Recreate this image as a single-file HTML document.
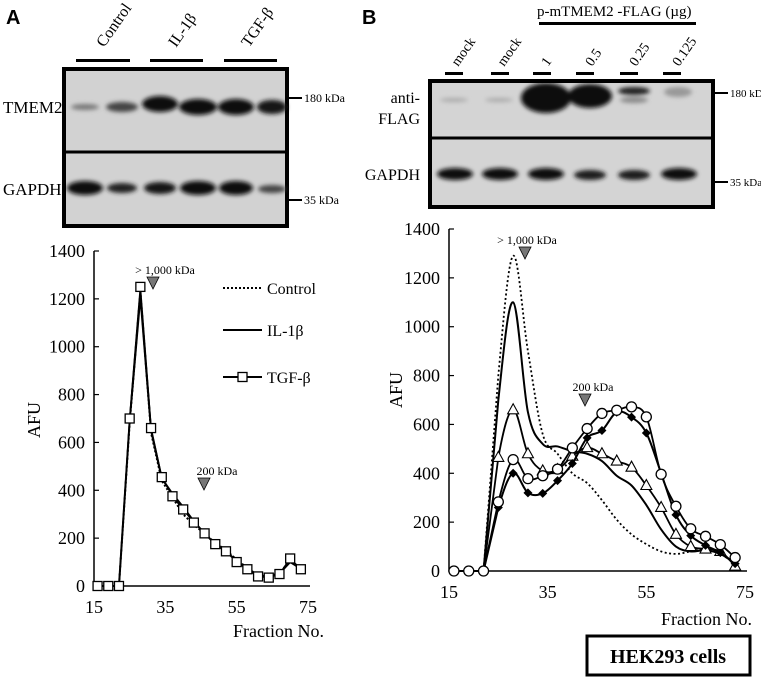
<!DOCTYPE html>
<html><head><meta charset="utf-8">
<style>
html,body{margin:0;padding:0;background:#fff;}
svg{display:block;font-family:"Liberation Serif",serif;}
.bold{font-family:"Liberation Sans",sans-serif;font-weight:bold;}
</style></head>
<body>
<svg id="fig" width="761" height="679" viewBox="0 0 761 679" xmlns="http://www.w3.org/2000/svg">
<defs>
<filter id="blur2"><feGaussianBlur stdDeviation="2.2"/></filter>
</defs>
<text class="bold" x="6" y="24" font-size="20">A</text>
<text class="bold" x="362" y="24" font-size="20">B</text>

<!-- Blot A -->
<g>
<text x="104" y="48" font-size="16" transform="rotate(-55 104 48)">Control</text>
<text x="176" y="48" font-size="16" transform="rotate(-55 176 48)">IL-1β</text>
<text x="249" y="48" font-size="16" transform="rotate(-55 249 48)">TGF-β</text>
<rect x="76" y="59" width="54" height="3" fill="#000"/>
<rect x="150" y="59" width="53" height="3" fill="#000"/>
<rect x="224" y="59" width="53" height="3" fill="#000"/>
<rect x="64" y="69" width="223" height="157" fill="#d2d2d2" stroke="#000" stroke-width="4"/>
<line x1="64" y1="152" x2="287" y2="152" stroke="#000" stroke-width="3"/>
<g filter="url(#blur2)">
<ellipse cx="85" cy="107" rx="14" ry="3" fill="#777"/>
<ellipse cx="122" cy="107" rx="16" ry="5" fill="#444"/>
<ellipse cx="160" cy="104" rx="18" ry="8" fill="#111"/>
<ellipse cx="198" cy="107" rx="19" ry="8" fill="#111"/>
<ellipse cx="236" cy="107" rx="18" ry="8" fill="#111"/>
<ellipse cx="272" cy="107" rx="15" ry="7" fill="#151515"/>
<ellipse cx="85" cy="188" rx="18" ry="7" fill="#111"/>
<ellipse cx="122" cy="188" rx="15" ry="5" fill="#222"/>
<ellipse cx="160" cy="188" rx="16" ry="6" fill="#151515"/>
<ellipse cx="198" cy="188" rx="18" ry="7" fill="#111"/>
<ellipse cx="236" cy="188" rx="17" ry="7" fill="#111"/>
<ellipse cx="272" cy="189" rx="14" ry="4" fill="#444"/>
</g>
<text x="3" y="113" font-size="17">TMEM2</text>
<text x="3" y="195" font-size="17">GAPDH</text>
<line x1="289" y1="98" x2="302" y2="98" stroke="#000" stroke-width="2"/>
<text x="304" y="102" font-size="12">180 kDa</text>
<line x1="289" y1="200" x2="302" y2="200" stroke="#000" stroke-width="2"/>
<text x="304" y="204" font-size="12">35 kDa</text>
</g>

<!-- Blot B -->
<g>
<text x="537" y="16" font-size="15">p-mTMEM2 -FLAG (µg)</text>
<rect x="539" y="22" width="157" height="3" fill="#000"/>
<text x="458" y="67" font-size="14" transform="rotate(-55 458 67)">mock</text>
<text x="504" y="67" font-size="14" transform="rotate(-55 504 67)">mock</text>
<text x="548" y="67" font-size="14" transform="rotate(-55 548 67)">1</text>
<text x="592" y="67" font-size="14" transform="rotate(-55 592 67)">0.5</text>
<text x="636" y="67" font-size="14" transform="rotate(-55 636 67)">0.25</text>
<text x="679" y="67" font-size="14" transform="rotate(-55 679 67)">0.125</text>
<rect x="445" y="72" width="18" height="3" fill="#000"/>
<rect x="491" y="72" width="18" height="3" fill="#000"/>
<rect x="533" y="72" width="18" height="3" fill="#000"/>
<rect x="576" y="72" width="18" height="3" fill="#000"/>
<rect x="620" y="72" width="18" height="3" fill="#000"/>
<rect x="663" y="72" width="18" height="3" fill="#000"/>
<rect x="430" y="81" width="283" height="126" fill="#d4d4d4" stroke="#000" stroke-width="4"/>
<line x1="430" y1="138" x2="713" y2="138" stroke="#000" stroke-width="3"/>
<g filter="url(#blur2)">
<ellipse cx="454" cy="100" rx="14" ry="2" fill="#aaa"/>
<ellipse cx="499" cy="100" rx="14" ry="2" fill="#aaa"/>
<ellipse cx="546" cy="98" rx="25" ry="15" fill="#0a0a0a"/>
<ellipse cx="590" cy="96" rx="22" ry="12" fill="#111"/>
<ellipse cx="634" cy="91" rx="16" ry="4" fill="#222"/>
<ellipse cx="634" cy="100" rx="14" ry="3" fill="#888"/>
<ellipse cx="678" cy="92" rx="14" ry="5" fill="#999"/>
<ellipse cx="455" cy="174" rx="18" ry="6" fill="#111"/>
<ellipse cx="500" cy="174" rx="18" ry="6" fill="#111"/>
<ellipse cx="546" cy="174" rx="18" ry="6" fill="#111"/>
<ellipse cx="590" cy="175" rx="16" ry="5" fill="#1a1a1a"/>
<ellipse cx="634" cy="175" rx="16" ry="5" fill="#1a1a1a"/>
<ellipse cx="679" cy="174" rx="18" ry="6" fill="#111"/>
</g>
<text x="420" y="103" font-size="16" text-anchor="end">anti-</text>
<text x="420" y="124" font-size="16" text-anchor="end">FLAG</text>
<text x="420" y="180" font-size="16" text-anchor="end">GAPDH</text>
<line x1="715" y1="93" x2="728" y2="93" stroke="#000" stroke-width="2"/>
<text x="730" y="97" font-size="11">180 kDa</text>
<line x1="715" y1="182" x2="728" y2="182" stroke="#000" stroke-width="2"/>
<text x="730" y="186" font-size="11">35 kDa</text>
</g>

<g id="chartA"></g>
<g id="chartB"></g>

<rect x="587" y="636" width="163" height="39" fill="#fff" stroke="#000" stroke-width="3"/>
<text x="668" y="663" font-size="20" font-weight="bold" text-anchor="middle">HEK293 cells</text>
</svg>
<script>
const fractions = [16,19,22,25,28,31,34,37,40,43,46,49,52,55,58,61,64,67,70,73];
const yTicks = [0,200,400,600,800,1000,1200,1400];
const xTicks = [15,35,55,75];
// Panel A
const aControl = [0,0,0,680,1230,640,440,370,300,255,220,180,150,110,75,45,40,55,105,75];
const aIL1b    = [0,0,0,690,1210,650,450,385,330,270,220,175,145,105,72,42,38,52,100,72];
const aTGFb    = [0,0,0,700,1250,660,455,375,320,265,220,175,145,100,70,40,35,50,115,70];
// Panel B
const bDotted  = [0,0,0,800,1290,900,560,480,400,360,290,210,150,110,80,70,80,90,70,30];
const bSolid   = [0,0,0,700,1100,650,520,510,490,480,450,390,350,270,170,100,80,85,70,30];
const bTriangle= [0,0,0,465,660,480,410,415,470,505,480,450,425,350,260,150,100,90,80,20];
const bCircle  = [0,0,0,283,456,378,390,417,504,583,645,658,672,631,396,265,173,142,108,55];
const bDiamond = [0,0,0,260,400,320,318,370,440,545,575,650,630,565,400,230,145,105,75,30];

const NS='http://www.w3.org/2000/svg';
function mk(parent,tag,attrs){const e=document.createElementNS(NS,tag);for(const k in attrs)e.setAttribute(k,attrs[k]);parent.appendChild(e);return e;}
function smooth(pts,base){let d='M'+pts[0][0]+','+pts[0][1];for(let i=0;i<pts.length-1;i++){const p0=pts[Math.max(0,i-1)],p1=pts[i],p2=pts[i+1],p3=pts[Math.min(pts.length-1,i+2)];
  if(p1[1]>=base-0.01||p2[1]>=base-0.01){d+=' L'+p2[0]+','+p2[1];continue;}
  const t=0.17;const c1=[p1[0]+(p2[0]-p0[0])*t,Math.min(base,p1[1]+(p2[1]-p0[1])*t)];const c2=[p2[0]-(p3[0]-p1[0])*t,Math.min(base,p2[1]-(p3[1]-p1[1])*t)];d+=' C'+c1[0]+','+c1[1]+' '+c2[0]+','+c2[1]+' '+p2[0]+','+p2[1];}return d;}

function axes(g,cfg){
  const X=v=>cfg.x0+(v-15)*(cfg.x1-cfg.x0)/60, Y=v=>cfg.y0-(v)*(cfg.y0-cfg.y1)/1400;
  const ax=mk(g,'path',{d:`M${cfg.x0},${cfg.y1} V${cfg.y0} H${cfg.x1+2}`,fill:'none',stroke:'#000','stroke-width':1.5});
  
  
  yTicks.forEach(t=>{
    mk(g,'line',{x1:cfg.x0,x2:cfg.x0+5,y1:Y(t),y2:Y(t),stroke:'#000','stroke-width':1.2});
    const tx=mk(g,'text',{x:cfg.x0-9,y:Y(t)+6,'font-size':18,'text-anchor':'end'});tx.textContent=t;
    
    
  });
  xTicks.forEach(t=>{
    const tx=mk(g,'text',{x:X(t),y:cfg.tickY,'font-size':18,'text-anchor':'middle'});tx.textContent=t;
    
    
  });
  const xl=mk(g,'text',{x:cfg.xlX,y:cfg.xlY,'font-size':18,'text-anchor':'end'});xl.textContent='Fraction No.';
  
  
  const yl=mk(g,'text',{x:cfg.ylX,y:cfg.ylY,'font-size':18,'text-anchor':'middle',transform:`rotate(-90 ${cfg.ylX} ${cfg.ylY})`});yl.textContent='AFU';
  
  
  return {X,Y};
}
function arrow(g,x,y,label,lx){
  const a=mk(g,'path',{d:`M${x-6},${y} L${x+6},${y} L${x},${y+12} Z`,fill:'#777',stroke:'#000','stroke-width':0.8});
  
  
  const t=mk(g,'text',{x:lx,y:y-3,'font-size':12,'text-anchor':'middle'});t.textContent=label;
  
  
}
function series(g,X,Y,vals,opts,name){
  const pts=fractions.map((f,i)=>[X(f),Y(vals[i])]);
  const p=mk(g,'path',{d:opts.straight?('M'+pts.map(p=>p.join(',')).join(' L')):smooth(pts,Y(0)),fill:'none',stroke:'#000','stroke-width':opts.w||2,'stroke-dasharray':opts.dash||'none'});
  
  
  if(opts.marker){pts.forEach(([x,y],i)=>{
    if(opts.marker!=='circle' && opts.marker!=='square' && vals[i]===0 && i<3) return;
    let m;
    if(opts.marker==='square') m=mk(g,'rect',{x:x-4.5,y:y-4.5,width:9,height:9,fill:'#fff',stroke:'#000','stroke-width':1.3});
    else if(opts.marker==='circle') m=mk(g,'circle',{cx:x,cy:y,r:5,fill:'#fff',stroke:'#000','stroke-width':1.3});
    else if(opts.marker==='triangle') m=mk(g,'path',{d:`M${x},${y-6} L${x+5.5},${y+4} L${x-5.5},${y+4} Z`,fill:'#fff',stroke:'#000','stroke-width':1.1});
    else m=mk(g,'path',{d:`M${x},${y-4.5} L${x+4.5},${y} L${x},${y+4.5} L${x-4.5},${y} Z`,fill:'#000'});
    
    
  });}
}
// Chart A
const gA=document.getElementById('chartA');
const A=axes(gA,{x0:94,x1:308,y0:586,y1:251,tickY:613,xlX:324,xlY:637,ylX:40,ylY:420});
arrow(gA,153,277,'> 1,000 kDa',165);
arrow(gA,204,478,'200 kDa',217);
series(gA,A.X,A.Y,aControl,{dash:'2,2',w:2,straight:true},'control');
series(gA,A.X,A.Y,aIL1b,{w:2,straight:true},'il1b');
series(gA,A.X,A.Y,aTGFb,{w:1.5,straight:true,marker:'square'},'tgfb');
// legend A
[['Control','2,2',null,294],['IL-1β','none',null,336],['TGF-β','none','square',383]].forEach(([lab,dash,mark,y])=>{
  const l=mk(gA,'line',{x1:223,x2:262,y1:y-6,y2:y-6,stroke:'#000','stroke-width':2,'stroke-dasharray':dash});
  
  
  if(mark){mk(gA,'rect',{x:238,y:y-10.5,width:9,height:9,fill:'#fff',stroke:'#000','stroke-width':1.3});}
  const t=mk(gA,'text',{x:267,y:y,'font-size':16});t.textContent=lab;
  
  
});
// Chart B
const gB=document.getElementById('chartB');
const B=axes(gB,{x0:449,x1:745,y0:571,y1:229,tickY:598,xlX:752,xlY:625,ylX:402,ylY:390});
arrow(gB,525,247,'> 1,000 kDa',527);
arrow(gB,585,394,'200 kDa',593);
series(gB,B.X,B.Y,bDotted,{dash:'2,2.5',w:1.8},'dotted');
series(gB,B.X,B.Y,bSolid,{w:2},'solid');
series(gB,B.X,B.Y,bTriangle,{w:1.8,marker:'triangle'},'triangle');
series(gB,B.X,B.Y,bDiamond,{w:2,marker:'diamond'},'diamond');
series(gB,B.X,B.Y,bCircle,{w:1.8,marker:'circle'},'circle');
</script>
</body></html>
